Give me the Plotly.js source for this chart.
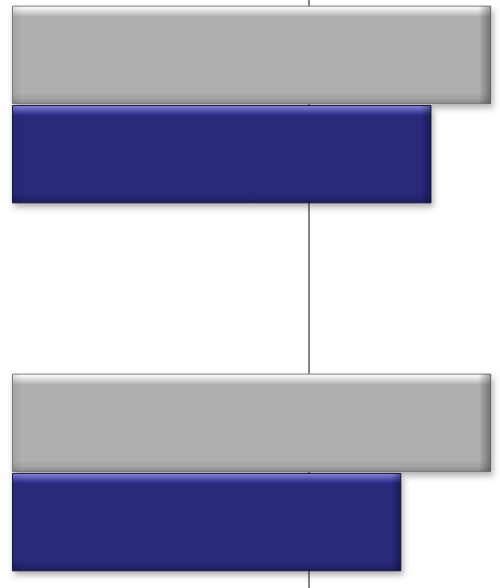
<!DOCTYPE html>
<html>
<head>
<meta charset="utf-8">
<script src="https://cdn.plot.ly/plotly-3.0.1.min.js"></script>
<style>
html,body{margin:0;padding:0;background:#fff;}
#chart{width:500px;height:588px;}
</style>
</head>
<body>
<div id="chart"></div>
<script>
// Data
var categories = ["Group 1", "Group 2"];
var seriesGray = [100, 100];
var seriesNavy = [87.5, 81.2];
var referenceLine = [62.1];

var grayColor = "#afafaf";
var navyColor = "#29297b";

var traces = [
  {
    type: "bar", orientation: "h", name: "Series 1",
    y: categories, x: seriesGray,
    marker: {color: grayColor, line: {color: "#7e7e7e", width: 1}},
    hoverinfo: "none"
  },
  {
    type: "bar", orientation: "h", name: "Series 2",
    y: categories, x: seriesNavy,
    marker: {color: navyColor, line: {color: "#1a1a4e", width: 1}},
    hoverinfo: "none"
  }
];

var layout = {
  width: 500, height: 588,
  margin: {l: 0, r: 0, t: 0, b: 0, pad: 0},
  paper_bgcolor: "#ffffff", plot_bgcolor: "#ffffff",
  showlegend: false,
  barmode: "group",
  bargap: 0.46,
  bargroupgap: 0.02,
  xaxis: {
    range: [-2.61, 101.94],
    tickmode: "array", tickvals: referenceLine,
    showticklabels: false, ticks: "",
    showgrid: true, gridcolor: "#858585", gridwidth: 2,
    zeroline: false, showline: false
  },
  yaxis: {
    type: "category",
    range: [1.314, -0.284],
    showticklabels: false, ticks: "",
    showgrid: false, zeroline: false, showline: false
  }
};

Plotly.newPlot("chart", traces, layout, {staticPlot: true, displayModeBar: false}).then(function(gd){
  var NS = "http://www.w3.org/2000/svg";
  var svg = gd.querySelector("svg.main-svg");
  var defs = document.createElementNS(NS, "defs");
  svg.insertBefore(defs, svg.firstChild);

  function grad(id, stops, horizontal){
    var g = document.createElementNS(NS, "linearGradient");
    g.setAttribute("id", id);
    g.setAttribute("x1", "0"); g.setAttribute("y1", "0");
    g.setAttribute("x2", horizontal ? "1" : "0");
    g.setAttribute("y2", horizontal ? "0" : "1");
    stops.forEach(function(s){
      var st = document.createElementNS(NS, "stop");
      st.setAttribute("offset", s[0]);
      st.setAttribute("stop-color", s[1]);
      st.setAttribute("stop-opacity", s[2] === undefined ? 1 : s[2]);
      g.appendChild(st);
    });
    defs.appendChild(g);
  }
  grad("vg0", [["0%","#fafafa"],["3%","#ededed"],["8%","#c6c6c6"],["11%","#afafaf"],["89%","#afafaf"],["95%","#a2a2a2"],["100%","#8a8a8a"]]);
  grad("vg1", [["0%","#8484d4"],["3%","#6b6bc0"],["8%","#3a3a96"],["11%","#29297b"],["89%","#29297b"],["95%","#25256f"],["100%","#1d1d58"]]);
  grad("hg", [["0%","#000000",0.08],["2%","#000000",0],["97.5%","#000000",0],["100%","#000000",0.35]], true);

  var f = document.createElementNS(NS, "filter");
  f.setAttribute("id", "shadow");
  f.setAttribute("x", "-5%"); f.setAttribute("y", "-10%");
  f.setAttribute("width", "115%"); f.setAttribute("height", "130%");
  var ds = document.createElementNS(NS, "feDropShadow");
  ds.setAttribute("dx", "2"); ds.setAttribute("dy", "4");
  ds.setAttribute("stdDeviation", "3");
  ds.setAttribute("flood-color", "#000"); ds.setAttribute("flood-opacity", "0.3");
  f.appendChild(ds);
  defs.appendChild(f);

  var traceGroups = gd.querySelectorAll(".barlayer .trace");
  traceGroups.forEach(function(tg, i){
    tg.querySelectorAll(".point path").forEach(function(p){
      p.style.fill = "url(#vg" + i + ")";
      p.style.filter = "url(#shadow)";
      var c = p.cloneNode(true);
      c.style.fill = "url(#hg)";
      c.style.filter = "none";
      c.style.stroke = "none";
      p.parentNode.appendChild(c);
    });
  });
});
</script>
</body>
</html>
